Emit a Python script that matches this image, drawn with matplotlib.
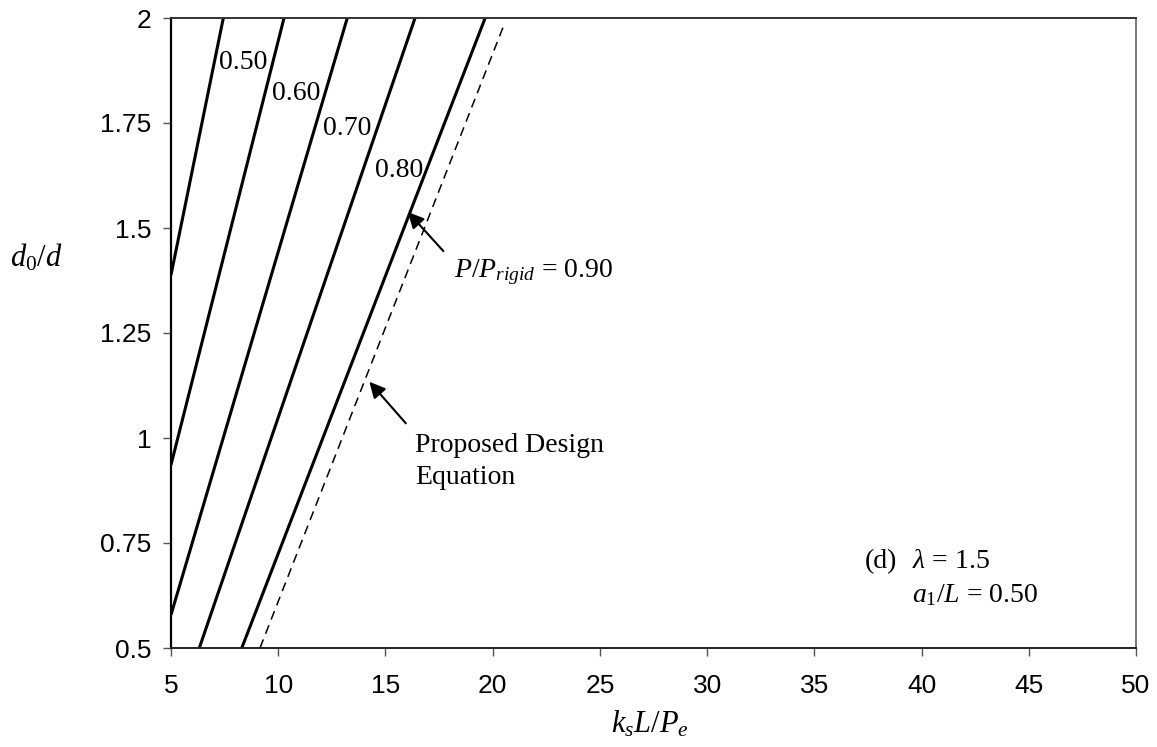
import matplotlib
matplotlib.use("Agg")
import matplotlib.pyplot as plt

plt.rcParams["mathtext.fontset"] = "custom"
plt.rcParams["mathtext.rm"] = "Liberation Serif"
plt.rcParams["mathtext.it"] = "Liberation Serif:italic"

# Curves of constant P/P_rigid: (k_s L / P_e, d0/d) pairs
ratio_labels = ["0.50", "0.60", "0.70", "0.80", "0.90"]
curve_x = [
    [5.0, 7.44],
    [5.0, 10.27],
    [5.0, 13.22],
    [6.32, 16.38],
    [8.30, 16.06, 19.65],
]
curve_y = [
    [1.388, 2.0],
    [0.936, 2.0],
    [0.579, 2.0],
    [0.5, 2.0],
    [0.5, 1.526, 2.0],
]

# Proposed design equation
design_x = [9.15, 20.5]
design_y = [0.5, 1.98]

x_ticks = [5, 10, 15, 20, 25, 30, 35, 40, 45, 50]
y_ticks = [0.5, 0.75, 1.0, 1.25, 1.5, 1.75, 2.0]
y_tick_labels = ["0.5", "0.75", "1", "1.25", "1.5", "1.75", "2"]

fig = plt.figure(figsize=(11.57, 7.47), dpi=100)
ax = fig.add_axes([171 / 1157, 99 / 747, 965 / 1157, 630 / 747])

for xs, ys in zip(curve_x, curve_y):
    ax.plot(xs, ys, color="black", lw=2.2, solid_capstyle="butt")
ax.plot(design_x, design_y, color="black", lw=1.1, dashes=(6, 4))

ax.set_xlim(5, 50)
ax.set_ylim(0.5, 2)
ax.set_xticks(x_ticks)
ax.set_xticklabels([str(v) for v in x_ticks], family="Liberation Sans", fontsize=19)
ax.set_yticks(y_ticks)
ax.set_yticklabels(y_tick_labels, family="Liberation Sans", fontsize=19)
ax.tick_params(direction="out", length=6, width=1, color="#555555")
ax.tick_params(axis="y", pad=8)
ax.tick_params(axis="x", pad=13)

ax.spines["left"].set_color("black")
ax.spines["left"].set_linewidth(1.6)
ax.spines["bottom"].set_color("#222222")
ax.spines["bottom"].set_linewidth(1.4)
ax.spines["top"].set_color("#333333")
ax.spines["top"].set_linewidth(1.4)
ax.spines["right"].set_color("#777777")
ax.spines["right"].set_linewidth(1.4)

serif = dict(family="Liberation Serif", fontsize=20)

# Curve labels
label_pos = [(7.24, 1.893), (9.71, 1.821), (12.09, 1.738), (14.51, 1.636)]
for txt, (lx, ly) in zip(ratio_labels[:4], label_pos):
    ax.text(lx, ly, txt, ha="left", va="center", **serif)

# Arrow and label for the 0.90 curve
ax.annotate("", xy=(16.05, 1.538), xytext=(17.70, 1.445),
            arrowprops=dict(arrowstyle="-|>", color="black", lw=1.5,
                            mutation_scale=24, shrinkA=0, shrinkB=0))
ax.text(18.2, 1.395, r"$P/P_{rigid}$ = " + ratio_labels[4], ha="left", va="center", **serif)

# Arrow and label for the design equation
ax.annotate("", xy=(14.25, 1.134), xytext=(15.95, 1.035),
            arrowprops=dict(arrowstyle="-|>", color="black", lw=1.5,
                            mutation_scale=24, shrinkA=0, shrinkB=0))
ax.text(16.38, 0.983, "Proposed Design", ha="left", va="center", **serif)
ax.text(16.38, 0.905, "Equation", ha="left", va="center", **serif)

# Case parameters
ax.text(37.37, 0.705, "(d)", ha="left", va="center", **serif)
ax.text(39.56, 0.705, r"$\lambda$ = 1.5", ha="left", va="center", **serif)
ax.text(39.56, 0.626, r"$a_{\mathrm{1}}/L$ = 0.50", ha="left", va="center", **serif)

# Axis titles
fig.text(36 / 1157, 1 - 258 / 747, r"$d_{\mathrm{0}}/d$", ha="center", va="center",
         family="Liberation Serif", fontsize=22)
fig.text(650 / 1157, 1 - 724 / 747, r"$k_{s}L/P_{e}$", ha="center", va="center",
         family="Liberation Serif", fontsize=22)

fig.savefig("out.png", dpi=100)
